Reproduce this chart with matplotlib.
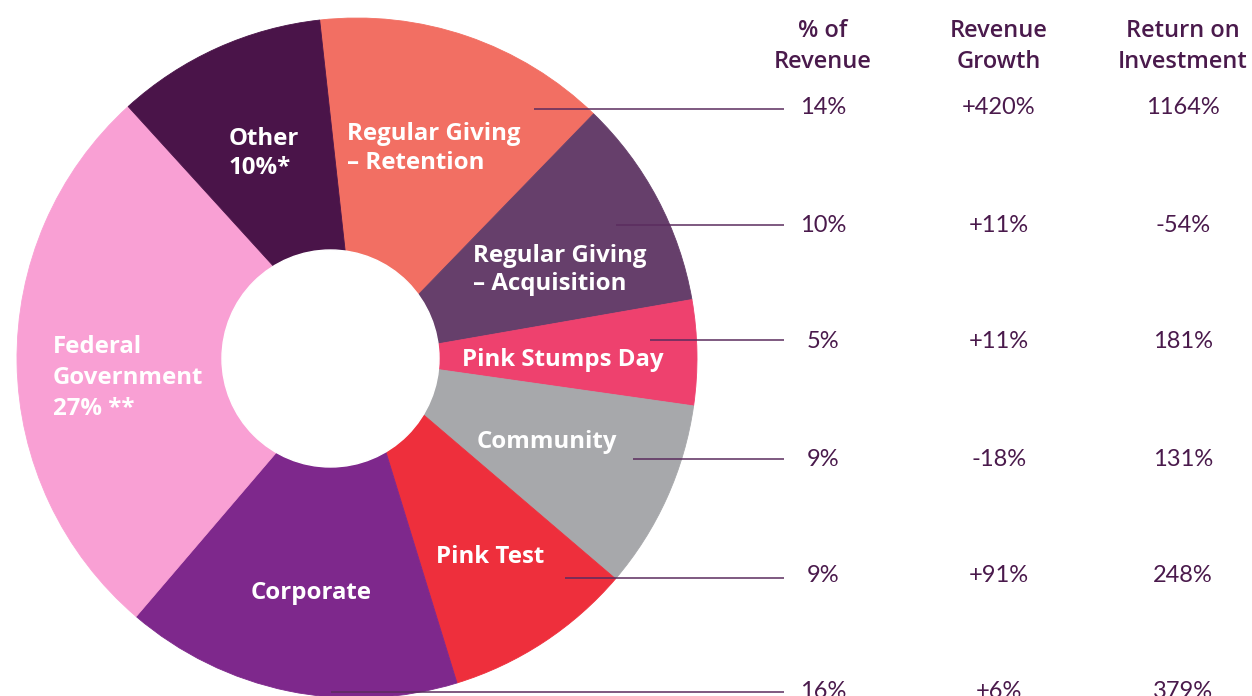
import matplotlib
matplotlib.use("Agg")
import matplotlib.pyplot as plt
from matplotlib.patches import Circle

plt.rcParams['font.family'] = ['Lato', 'DejaVu Sans']
LABEL_FONT = ['Open Sans', 'DejaVu Sans']

# slices, clockwise from the top
segments = ['Regular Giving\n– Retention', 'Regular Giving\n– Acquisition', 'Pink Stumps Day',
            'Community', 'Pink Test', 'Corporate', 'Federal\nGovernment\n27% **', 'Other\n10%*']
slice_share = [14, 10, 5, 9, 9, 16, 27, 10]
colors = ['#F26F63', '#663F6B', '#EE416E', '#A7A8AB', '#EE2F3C', '#7E288C', '#F9A0D4', '#4A1449']

# table on the right (one row per slice that has a leader line)
headers = ['% of\nRevenue', 'Revenue\nGrowth', 'Return on\nInvestment']
pct_revenue = ['14%', '10%', '5%', '9%', '9%', '16%']
rev_growth = ['+420%', '+11%', '+11%', '-18%', '+91%', '+6%']
roi = ['1164%', '-54%', '181%', '131%', '248%', '379%']

W, H = 1252, 696
def Y(y):
    return H - y

fig = plt.figure(figsize=(W / 100, H / 100), dpi=100)
ax = fig.add_axes([0, 0, 1, 1])

wedges, _ = ax.pie(slice_share, colors=colors, startangle=96.3, counterclock=False,
                   center=(357, Y(358)), radius=340,
                   wedgeprops=dict(linewidth=0.6))
for w, c in zip(wedges, colors):
    w.set_edgecolor(c)
ax.add_patch(Circle((330.5, Y(358.5)), 108.5, color='white', zorder=3))

# labels inside the wedges: left edge x, centre y of first line, line step
label_pos = [(347, 131, 29), (473, 253, 28), (462, 357, 0), (477, 439, 0), (436, 554, 0),
             (251, 590, 0), (53, 344, 31), (229, 136, 29)]
for txt, (lx, ly, step) in zip(segments, label_pos):
    for i, line in enumerate(txt.split('\n')):
        ax.text(lx, Y(ly + i * step), line, color='white', fontsize=17.3, fontweight='bold',
                family=LABEL_FONT, ha='left', va='center_baseline', zorder=4)

# leader lines and table rows
line_start = [534, 616, 650, 633, 565, 331]
line_y = [108.5, 224.5, 339.5, 458.5, 577.5, 692]
row_y = [106, 223, 340, 457, 573, 690]
col_x = [823, 999, 1183]
dark = '#4A1A4C'

for x0, ly in zip(line_start, line_y):
    ax.plot([x0, 784], [Y(ly), Y(ly)], color='#5B2C5E', lw=1.1, zorder=5,
            solid_capstyle='butt')

for cx, h in zip(col_x, headers):
    for i, line in enumerate(h.split('\n')):
        ax.text(cx, Y(28 + i * 31), line, color=dark, fontsize=17, fontweight='semibold',
                family=LABEL_FONT, ha='center', va='center_baseline')

for col, vals in zip(col_x, [pct_revenue, rev_growth, roi]):
    for ry, v in zip(row_y, vals):
        ax.text(col, Y(ry), v, color=dark, fontsize=17, ha='center', va='center_baseline')

ax.set_xlim(0, W)
ax.set_ylim(0, H)
ax.set_aspect('equal')
ax.axis('off')

fig.savefig('out.png', dpi=100, facecolor='white')
